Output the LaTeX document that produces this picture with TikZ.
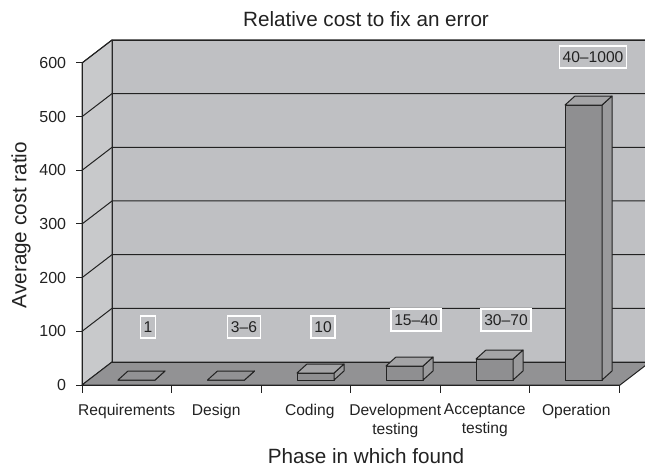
\documentclass[tikz,border=0pt]{standalone}
\usepackage{fontspec}
\setmainfont{Liberation Sans}
\usetikzlibrary{positioning}

\definecolor{wallgray}{HTML}{BFC0C3}
\definecolor{sidegray}{HTML}{C8C9CB}
\definecolor{floorgray}{HTML}{929294}
\definecolor{barfront}{HTML}{8F8F91}
\definecolor{barside}{HTML}{9A9A9C}
\definecolor{bartop}{HTML}{A4A4A6}
\definecolor{ink}{HTML}{222222}

\begin{document}
\begin{tikzpicture}[x=0.75pt, y=-0.75pt, line width=0.75pt, every node/.style={text=ink},
    edge/.style={draw=ink, line join=round},
    valbox/.style={fill=wallgray, draw=white, line width=1pt, inner xsep=2.5pt, inner ysep=0pt, minimum height=16.5pt, font=\fontsize{11.7}{13}\selectfont},
    catlabel/.style={align=center, anchor=north, font=\fontsize{11.7}{14.2}\selectfont},
    ticklabel/.style={anchor=east, font=\fontsize{12}{14}\selectfont},
    axtitle/.style={font=\fontsize{15.5}{18}\selectfont}]

        \clip (0,0) rectangle (645,468);

        % walls and floor
        \path[edge, fill=wallgray] (112,40) rectangle (660,362);
        \path[edge, fill=sidegray] (82,385) -- (82,63) -- (112,40) -- (112,362) -- cycle;
        \path[edge, fill=floorgray] (82,385) -- (112,362) -- (660,362) -- (650,362) -- (620,385) -- cycle;
        \path[edge] (112,362) -- (660,362);

        % grid lines and value axis
        \foreach \v in {100,200,...,600} {
            \pgfmathsetmacro\yf{385-0.5367*\v}
            \path[edge] (82,\yf) -- (112,\yf-23) -- (660,\yf-23);
        }
        \foreach \v in {0,100,...,600} {
            \pgfmathsetmacro\yf{385-0.5367*\v}
            \path[edge] (76,\yf) -- (82,\yf);
            \node[ticklabel] (tick-\v) at (71,\yf) {\v};
        }
        \path[edge] (82,63) -- (82,385) -- (620,385);
        \foreach \k in {0,...,6}
            \path[edge] (82+89.5*\k,385) -- (82+89.5*\k,393);

        % bars: name / left / top / fill of top face
        \foreach \name/\l/\t/\tc in {req/118/380/floorgray, des/207.5/380/floorgray, cod/297/373/bartop,
                                     dev/386/366/bartop, acc/476/359/bartop, ops/565/105/bartop} {
            \path[edge, fill=barfront] (\l,380) rectangle (\l+37,\t);
            \path[edge, fill=barside] (\l+37,380) -- (\l+47,371) -- (\l+47,\t-9) -- (\l+37,\t) -- cycle;
            \path[edge, fill=\tc] (\l,\t) -- (\l+10,\t-9) -- (\l+47,\t-9) -- (\l+37,\t) -- cycle;
        }

        % value boxes
        \node[valbox] (val-req) at (148,327) {1};
        \node[valbox] (val-des) at (244,327) {3--6};
        \node[valbox] (val-cod) at (323,327) {10};
        \node[valbox] (val-dev) at (416,320) {15--40};
        \node[valbox] (val-acc) at (506,320) {30--70};
        \node[valbox] (val-ops) at (593,57) {40--1000};

        % phase labels
        \node[catlabel] (cat-req) at (126.75,399) {Requirements};
        \node[catlabel] (cat-des) at (216.25,399) {Design};
        \node[catlabel] (cat-cod) at (309.75,399) {Coding};
        \node[catlabel] (cat-dev) at (395.25,399) {Development\\testing};
        \node[catlabel] (cat-acc) at (484.75,399) {Acceptance\\testing};
        \node[catlabel] (cat-ops) at (576.25,399) {Operation};

        \node[axtitle] (title) at (366,19) {Relative cost to fix an error};
        \node[axtitle, rotate=90] (ylabel) at (21,225) {Average cost ratio};
        \node[axtitle] (xlabel) at (366,456) {Phase in which found};
\end{tikzpicture}
\end{document}
